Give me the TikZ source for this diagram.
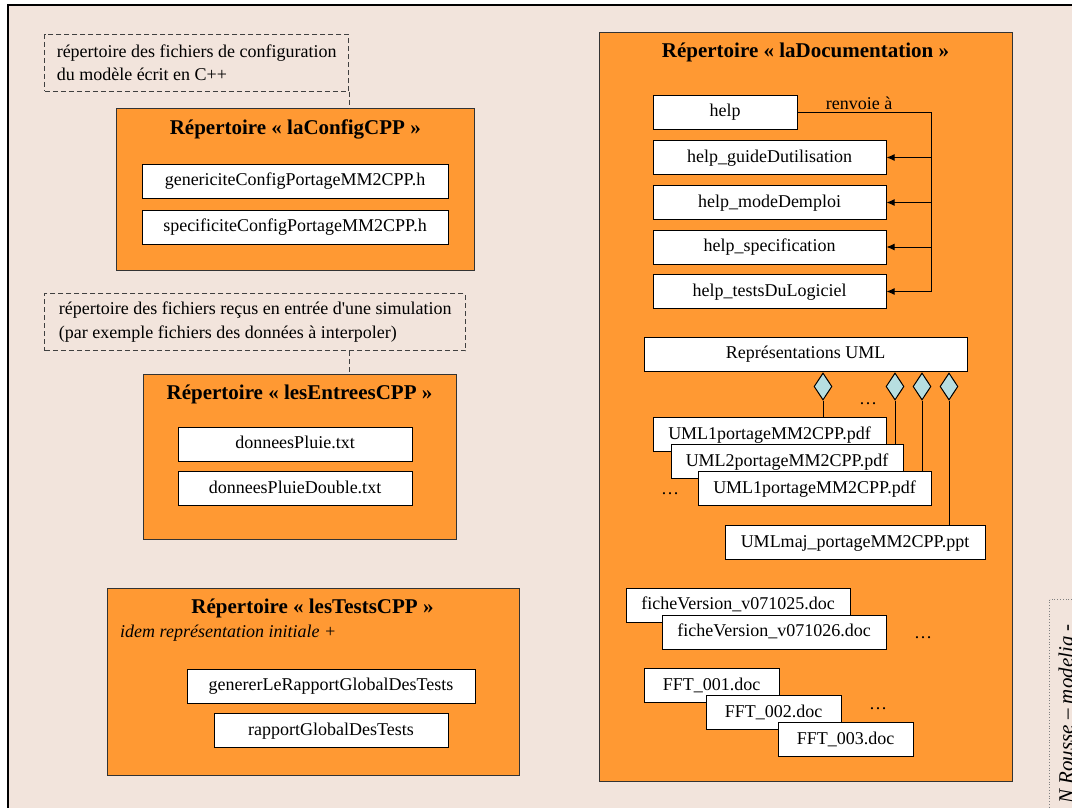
\documentclass[tikz,border=0pt]{standalone}
\usepackage{fontspec}
\setmainfont{Liberation Serif}
\usetikzlibrary{shapes.geometric,arrows.meta}
\definecolor{fondBeige}{RGB}{242,228,220}
\definecolor{orangeRep}{RGB}{255,153,51}
\definecolor{bleuUML}{RGB}{183,222,224}
\tikzstyle{repertoire}=[draw=black!80, fill=orangeRep, line width=1pt, inner sep=0pt]
\tikzstyle{fichier}=[draw=black, fill=white, line width=1pt, inner sep=0pt, minimum height=34pt, text height=13pt, text depth=4pt, font=\fontsize{18}{22}\selectfont]
\tikzstyle{titre}=[inner sep=0pt, font=\bfseries\fontsize{21}{25}\selectfont]
\tikzstyle{texte}=[inner sep=0pt, font=\fontsize{18}{22}\selectfont]
\tikzstyle{pointilles}=[draw=black!75, dash pattern=on 5pt off 3pt, line width=1pt]
\tikzstyle{remarque}=[pointilles, inner xsep=11pt, inner ysep=0pt, align=left, font=\fontsize{18}{23.5}\selectfont]
\tikzstyle{losange}=[diamond, draw, fill=bleuUML, line width=1pt, inner sep=0pt, minimum width=18pt, minimum height=27pt]
\tikzstyle{fleche}=[line width=1pt, -{Latex[length=8pt,width=7pt]}]

\begin{document}
\begin{tikzpicture}[x=1pt,y=-1pt]
\useasboundingbox (0,0) rectangle (1072,808);
\clip (0,0) rectangle (1072,808);
\fill[white] (0,0) rectangle (1072,808);
\draw[line width=2pt, fill=fondBeige] (7.5,5.5) rectangle (1100,830);

% signature
\draw[gray, dotted, line width=0.8pt] (1049.5,599.5) rectangle (1100,850);
\node[texte, font=\itshape\fontsize{21}{25}\selectfont, rotate=90, anchor=base west] (signature) at (1073,804) {N Rousse -- modelia -};

% laConfigCPP
\node[remarque, minimum width=303.7pt, minimum height=57pt] (note1) at (196.7,62.9) {répertoire des fichiers de configuration\\du modèle écrit en C++};
\node[repertoire, minimum width=358.5pt, minimum height=161pt] (repConfig) at (295.3,189.5) {};
\node[titre] (titreConfig) at (295.3,129) {Répertoire « laConfigCPP »};
\node[fichier, minimum width=306pt] (generique) at (295,181.3) {genericiteConfigPortageMM2CPP.h};
\node[fichier, minimum width=306pt] (specifique) at (295,227.2) {specificiteConfigPortageMM2CPP.h};
\draw[pointilles] (note1.south east) -- (note1.south east |- repConfig.north);

% lesEntreesCPP
\node[remarque, minimum width=420.8pt, minimum height=57pt] (note2) at (255.2,322.2) {répertoire des fichiers reçus en entrée d\textquotesingle une simulation\\(par exemple fichiers des données à interpoler)};
\node[repertoire, minimum width=313pt, minimum height=165pt] (repEntrees) at (299.5,456.5) {};
\node[titre] (titreEntrees) at (299.5,394) {Répertoire « lesEntreesCPP »};
\node[fichier, minimum width=234pt] (pluie) at (295,444) {donneesPluie.txt};
\node[fichier, minimum width=234pt] (pluieDouble) at (295,488.5) {donneesPluieDouble.txt};
\draw[pointilles] (note2.south -| note1.east) -- (repEntrees.north -| note1.east);

% lesTestsCPP
\node[repertoire, minimum width=412pt, minimum height=187pt] (repTests) at (313,681.5) {};
\node[titre] (titreTests) at (312.5,608) {Répertoire « lesTestsCPP »};
\node[texte, font=\itshape\fontsize{18}{22}\selectfont, anchor=west] (idem) at (120,633) {idem représentation initiale +};
\node[fichier, minimum width=288pt] (generer) at (331,686) {genererLeRapportGlobalDesTests};
\node[fichier, minimum width=234pt] (rapport) at (331,730.5) {rapportGlobalDesTests};

% laDocumentation
\node[repertoire, minimum width=413pt, minimum height=748pt] (repDoc) at (805.5,407) {};
\node[titre] (titreDoc) at (805.5,52) {Répertoire « laDocumentation »};
\node[fichier, minimum width=144pt] (help) at (725,112.5) {help};
\foreach \nom/\y/\fich in {hGuide/157.5/help\_guideDutilisation, hMode/202.5/help\_modeDemploi, hSpec/247/help\_specification, hTests/291.5/help\_testsDuLogiciel}
  \node[fichier, minimum width=233pt] (\nom) at (769.5,\y) {\fich};
\coordinate (coin) at ([xshift=134pt]help.east);
\draw[line width=1pt] (help.east) -- (coin) -- (coin |- hTests.east);
\foreach \nom in {hGuide,hMode,hSpec,hTests}
  \draw[fleche] (coin |- \nom.east) -- (\nom.east);
\node[texte, anchor=base] (renvoi) at (859,110) {renvoie à};

% representations UML
\node[fichier, minimum width=323pt] (uml) at (805.5,354) {Représentations UML};
\foreach \i/\x in {1/823,2/895,3/922,4/949}
  \node[losange] (los\i) at (\x,386.5) {};
\node[fichier, minimum width=233pt] (uml1) at (769.5,434.5) {UML1portageMM2CPP.pdf};
\node[fichier, minimum width=232pt] (uml2) at (787,461.5) {UML2portageMM2CPP.pdf};
\node[fichier, minimum width=233pt] (uml3) at (814.5,488.5) {UML1portageMM2CPP.pdf};
\node[fichier, minimum width=260pt] (umlMaj) at (855,542.5) {UMLmaj\_portageMM2CPP.ppt};
\foreach \i/\cible in {1/uml1,2/uml2,3/uml3,4/umlMaj}
  \draw[line width=1pt] (los\i.south) -- (los\i.south |- \cible.north);
\node[texte, anchor=base] (suiteLos) at (868,404.5) {…};
\node[texte, anchor=base] (suiteUml) at (670,494.5) {…};

% fiches de version et FFT
\node[fichier, minimum width=224pt] (fiche1) at (738,605) {ficheVersion\_v071025.doc};
\node[fichier, minimum width=224pt] (fiche2) at (774,632) {ficheVersion\_v071026.doc};
\node[texte, anchor=base] (suiteFiche) at (923,638.5) {…};
\node[fichier, minimum width=135pt] (fft1) at (711.5,685.5) {FFT\_001.doc};
\node[fichier, minimum width=135pt] (fft2) at (773.5,712.5) {FFT\_002.doc};
\node[fichier, minimum width=135pt] (fft3) at (845.5,739.5) {FFT\_003.doc};
\node[texte, anchor=base] (suiteFft) at (878,709.5) {…};
\end{tikzpicture}
\end{document}
